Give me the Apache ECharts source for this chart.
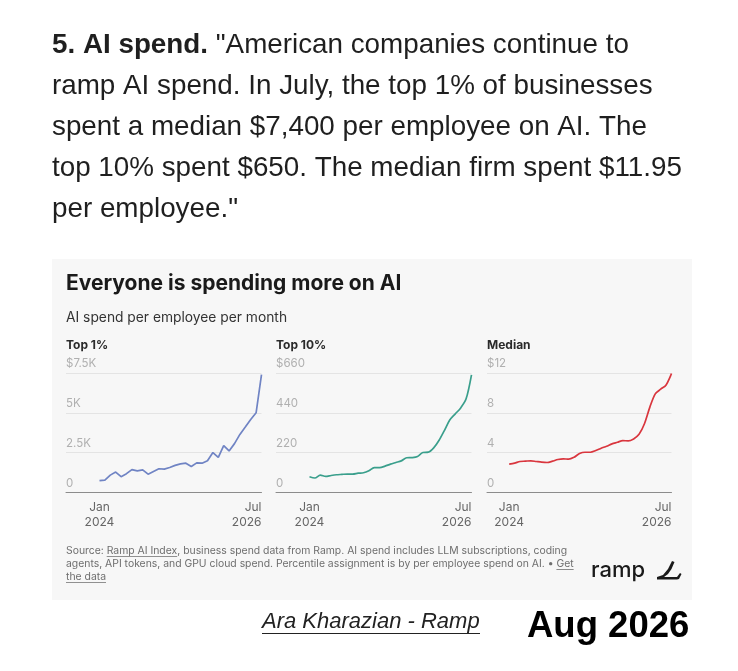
<!DOCTYPE html>
<html>
<head>
<meta charset="utf-8">
<style>
  html, body { margin: 0; padding: 0; background: #fff; }
  #chart { width: 738px; height: 671px; }
</style>
<script src="https://cdn.jsdelivr.net/npm/echarts@6/dist/echarts.min.js"></script>
</head>
<body>
<div id="chart"></div>
<script>
// monthly points, Jan 2024 .. Jul 2026
var months = ['Jan 2024', 'Feb 2024', 'Mar 2024', 'Apr 2024', 'May 2024', 'Jun 2024',
  'Jul 2024', 'Aug 2024', 'Sep 2024', 'Oct 2024', 'Nov 2024', 'Dec 2024',
  'Jan 2025', 'Feb 2025', 'Mar 2025', 'Apr 2025', 'May 2025', 'Jun 2025',
  'Jul 2025', 'Aug 2025', 'Sep 2025', 'Oct 2025', 'Nov 2025', 'Dec 2025',
  'Jan 2026', 'Feb 2026', 'Mar 2026', 'Apr 2026', 'May 2026', 'Jun 2026', 'Jul 2026'];

var top1 = [730, 770, 1080, 1270, 980, 1170, 1430, 1350, 1410, 1140, 1310, 1480, 1460, 1560,
  1690, 1790, 1830, 1620, 1850, 1830, 1980, 2500, 2190, 2940, 2600, 3060, 3640, 4100, 4580, 5000, 7400];
var top10 = [86, 79, 95, 88, 93, 97, 99, 101, 101, 106, 108, 119, 137, 136, 145, 156, 165, 174,
  191, 192, 198, 220, 222, 246, 288, 343, 401, 434, 467, 517, 650];
var median = [2.83, 2.93, 3.10, 3.13, 3.17, 3.10, 3.03, 3.00, 3.13, 3.30, 3.37, 3.33, 3.53, 3.90,
  4.03, 4.03, 4.20, 4.43, 4.63, 4.87, 5.03, 5.20, 5.17, 5.37, 5.83, 6.90, 8.57, 9.90, 10.37, 10.80, 11.95];

var top1Ticks = ['0', '2.5K', '5K', '$7.5K'];
var top10Ticks = ['0', '220', '440', '$660'];
var medianTicks = ['0', '4', '8', '$12'];
var xTicks = {0: 'Jan\n2024', 30: 'Jul\n2026'};

var panels = [
  {name: 'Top 1%', data: top1, ticks: top1Ticks, max: 7500, color: '#7084c4', left: 66, width: 195.5, xmin: -6.2, smooth: false},
  {name: 'Top 10%', data: top10, ticks: top10Ticks, max: 660, color: '#3a9f8c', left: 276, width: 195.5, xmin: -6.2, smooth: 0.3},
  {name: 'Median', data: median, ticks: medianTicks, max: 12, color: '#d9363e', left: 487, width: 184.5, xmin: -4.1, smooth: 0.3}
];

var FONT = 'Inter, "Noto Sans", sans-serif';
var ARIAL = '"Liberation Sans", Arial, sans-serif';

var myChart = echarts.init(document.getElementById('chart'));

var grids = [], xAxes = [], yAxes = [], series = [];
panels.forEach(function (p, k) {
  grids.push({left: p.left, top: 373, width: p.width, height: 119.3});
  xAxes.push({
    type: 'value', gridIndex: k, min: p.xmin, max: 30,
    splitLine: {show: false},
    axisTick: {show: false},
    axisLine: {show: true, lineStyle: {color: '#8c8c8c', width: 1}},
    axisLabel: {
      customValues: [0, 30],
      alignMaxLabel: 'right',
      margin: 8, color: '#666', fontSize: 12, lineHeight: 15, fontFamily: FONT,
      formatter: function (v) { return xTicks[Math.round(v)] || ''; }
    }
  });
  yAxes.push({
    type: 'value', gridIndex: k, min: 0, max: p.max, interval: p.max / 3,
    axisLine: {show: false},
    axisTick: {show: false},
    splitLine: {lineStyle: {color: '#e4e4e4', width: 1}},
    axisLabel: {
      inside: true, margin: 0, verticalAlign: 'bottom', padding: [0, 0, 3, 0],
      color: '#b0b0b0', fontSize: 11.5, fontFamily: FONT,
      formatter: function (v, i) { return p.ticks[i]; }
    }
  });
  series.push({
    type: 'line', xAxisIndex: k, yAxisIndex: k,
    data: p.data.map(function (v, i) { return [i, v]; }),
    showSymbol: false, smooth: p.smooth,
    lineStyle: {color: p.color, width: 1.7},
    silent: true
  });
});

var paraLines = [
  '{b|5. AI spend.} "American companies continue to',
  'ramp AI spend. In July, the top 1% of businesses',
  'spent a median $7,400 per employee on AI. The',
  'top 10% spent $650. The median firm spent $11.95',
  'per employee."'
];

var graphics = [
  {type: 'rect', z: -10, shape: {x: 52, y: 259, width: 640, height: 341}, style: {fill: '#f7f7f7'}}
];
paraLines.forEach(function (t, i) {
  graphics.push({
    type: 'text', x: 52, y: 45 + i * 41,
    style: {
      text: t, fill: '#1f1f1f', font: '27.8px ' + ARIAL, verticalAlign: 'middle',
      rich: {b: {fontWeight: 'bold', fontSize: 27.8, fontFamily: ARIAL, fill: '#1f1f1f'}}
    }
  });
});
graphics.push(
  {type: 'text', x: 66, y: 284, style: {text: 'Everyone is spending more on AI', fill: '#1a1a1a', font: 'bold 21px ' + FONT, verticalAlign: 'middle'}},
  {type: 'text', x: 66, y: 318, style: {text: 'AI spend per employee per month', fill: '#333', font: '13.8px ' + FONT, verticalAlign: 'middle'}}
);
panels.forEach(function (p) {
  graphics.push({type: 'text', x: p.left, y: 345, style: {text: p.name, fill: '#2a2a2a', font: 'bold 12px ' + FONT, verticalAlign: 'middle'}});
});

// source note, with underlined links placed by measuring the text
var SRC_FONT = '10.4px ' + FONT;
var srcLines = [
  ['Source: ', 'Ramp AI Index', ', business spend data from Ramp. AI spend includes LLM subscriptions, coding'],
  ['agents, API tokens, and GPU cloud spend. Percentile assignment is by per employee spend on AI. \u2022 ', 'Get', ''],
  ['', 'the data', '']
];
var ctx = document.createElement('canvas').getContext('2d');
ctx.font = SRC_FONT;
srcLines.forEach(function (l, i) {
  var y = 550.5 + i * 13;
  graphics.push({type: 'text', x: 66, y: y, style: {text: l.join(''), fill: '#6e6e6e', font: SRC_FONT, verticalAlign: 'middle'}});
  var x0 = 66 + ctx.measureText(l[0]).width;
  var w = ctx.measureText(l[1]).width;
  graphics.push({type: 'rect', shape: {x: x0, y: y + 5.5, width: w, height: 0.8}, style: {fill: '#6e6e6e'}});
});

graphics.push(
  {type: 'text', x: 591, y: 570, style: {text: 'ramp', fill: '#1a1a1a', font: '500 22px ' + FONT, verticalAlign: 'middle'}},
  {type: 'polygon', shape: {points: [[657, 577], [663, 575], [668, 569], [672, 561], [674.5, 562], [671.5, 569],
    [668, 574], [664, 577], [677, 577], [680, 573], [681.5, 574], [679, 579], [677, 579.5], [657, 579.5]]},
    style: {fill: '#1a1a1a'}},
  {type: 'text', x: 262, y: 622, style: {text: 'Ara Kharazian - Ramp', fill: '#222', font: 'italic 22px ' + ARIAL, verticalAlign: 'middle'}},
  {type: 'rect', shape: {x: 262, y: 633, width: 218, height: 1}, style: {fill: '#222'}},
  {type: 'text', x: 527, y: 627, style: {text: 'Aug 2026', fill: '#000', font: 'bold 36.5px ' + ARIAL, verticalAlign: 'middle'}}
);

myChart.setOption({
  animation: false,
  backgroundColor: '#fff',
  grid: grids,
  xAxis: xAxes,
  yAxis: yAxes,
  series: series,
  graphic: graphics
});
</script>
</body>
</html>
